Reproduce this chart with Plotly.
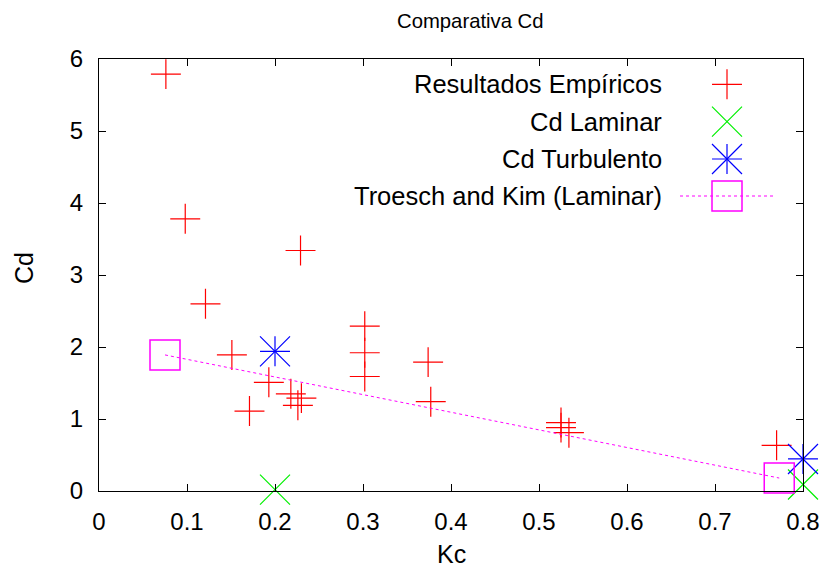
import plotly.graph_objects as go

# ---- data ----
emp_kc = [0.076, 0.098, 0.121, 0.229, 0.151, 0.193, 0.171, 0.218, 0.230, 0.226,
          0.302, 0.302, 0.302, 0.374, 0.377, 0.525, 0.525, 0.534, 0.770]
emp_cd = [5.79, 3.78, 2.60, 3.34, 1.89, 1.51, 1.11, 1.35, 1.29, 1.19,
          2.29, 1.92, 1.59, 1.79, 1.24, 0.95, 0.88, 0.81, 0.635]
lam_kc = [0.2, 0.8]
lam_cd = [0.02, 0.09]
turb_kc = [0.2, 0.8]
turb_cd = [1.94, 0.445]
tk_kc = [0.075, 0.773]
tk_cd = [1.89, 0.18]
x_ticks = [0, 0.1, 0.2, 0.3, 0.4, 0.5, 0.6, 0.7, 0.8]
x_ticktext = ["0", "0.1", "0.2", "0.3", "0.4", "0.5", "0.6", "0.7", "0.8"]
y_ticks = [0, 1, 2, 3, 4, 5, 6]
legend_names = ["Resultados Empíricos", "Cd Laminar", "Cd Turbulento", "Troesch and Kim (Laminar)"]

RED, GREEN, BLUE, MAG = "#ff0000", "#00f000", "#0000ff", "#ff00ff"
FONT = "Liberation Sans, Arial, sans-serif"

# window geometry (page body has an 8px default margin)
OFF = 8
WIN_W, WIN_H = 829, 571
PL, PR, PT, PB = 99, 803, 59, 491   # plot area in window pixels
W, H = WIN_W - OFF, WIN_H - OFF
PW, PH = PR - PL, PB - PT

def px(xp):
    return (xp - PL) / PW

def py(yp):
    return (PB - yp) / PH

fig = go.Figure()

# data traces
fig.add_trace(go.Scatter(x=emp_kc, y=emp_cd, mode="markers", cliponaxis=False,
                         marker=dict(symbol="cross-thin", size=21.4, color=RED,
                                     line=dict(color=RED, width=1.2))))
fig.add_trace(go.Scatter(x=lam_kc, y=lam_cd, mode="markers", cliponaxis=False,
                         marker=dict(symbol="x-thin", size=30, color=GREEN,
                                     line=dict(color=GREEN, width=1.2))))
fig.add_trace(go.Scatter(x=turb_kc, y=turb_cd, mode="markers", cliponaxis=False,
                         marker=dict(symbol="cross-thin", size=21.4, color=BLUE,
                                     line=dict(color=BLUE, width=1.2))))
fig.add_trace(go.Scatter(x=turb_kc, y=turb_cd, mode="markers", cliponaxis=False,
                         marker=dict(symbol="x-thin", size=30, color=BLUE,
                                     line=dict(color=BLUE, width=1.2))))
fig.add_trace(go.Scatter(x=tk_kc, y=tk_cd, mode="lines+markers", cliponaxis=False,
                         line=dict(color=MAG, width=1, dash="dot"),
                         marker=dict(symbol="square-open", size=30, color=MAG,
                                     line=dict(color=MAG, width=1.5))))

# legend (gnuplot style: text right-aligned, sample on the right) in an overlay pixel axis
LX_TEXT, LX_SAMPLE = 664, 727
rows = [84.3, 121.7, 159, 196]
fig.add_trace(go.Scatter(x=[LX_SAMPLE], y=[rows[0]], xaxis="x2", yaxis="y2", mode="markers",
                         cliponaxis=False,
                         marker=dict(symbol="cross-thin", size=21.4, color=RED, line=dict(color=RED, width=1.2))))
fig.add_trace(go.Scatter(x=[LX_SAMPLE], y=[rows[1]], xaxis="x2", yaxis="y2", mode="markers",
                         cliponaxis=False,
                         marker=dict(symbol="x-thin", size=30, color=GREEN, line=dict(color=GREEN, width=1.2))))
fig.add_trace(go.Scatter(x=[LX_SAMPLE], y=[rows[2]], xaxis="x2", yaxis="y2", mode="markers",
                         cliponaxis=False,
                         marker=dict(symbol="cross-thin", size=21.4, color=BLUE, line=dict(color=BLUE, width=1.2))))
fig.add_trace(go.Scatter(x=[LX_SAMPLE], y=[rows[2]], xaxis="x2", yaxis="y2", mode="markers",
                         cliponaxis=False,
                         marker=dict(symbol="x-thin", size=30, color=BLUE, line=dict(color=BLUE, width=1.2))))
fig.add_trace(go.Scatter(x=[680, 773], y=[rows[3], rows[3]], xaxis="x2", yaxis="y2", mode="lines",
                         cliponaxis=False, line=dict(color=MAG, width=1, dash="dot")))
fig.add_trace(go.Scatter(x=[LX_SAMPLE], y=[rows[3]], xaxis="x2", yaxis="y2", mode="markers",
                         cliponaxis=False,
                         marker=dict(symbol="square-open", size=30, color=MAG, line=dict(color=MAG, width=1.5))))

annotations = []
for name, ry in zip(legend_names, rows):
    annotations.append(dict(text=name, x=px(LX_TEXT), y=py(ry), xref="paper", yref="paper",
                            xanchor="right", yanchor="middle", showarrow=False,
                            font=dict(family=FONT, size=25.5, color="black")))
annotations.append(dict(text="Comparativa Cd", x=px(470), y=py(21), xref="paper", yref="paper",
                        xanchor="center", yanchor="middle", showarrow=False,
                        font=dict(family=FONT, size=20.3, color="black")))
annotations.append(dict(text="Kc", x=px(451), y=py(554), xref="paper", yref="paper",
                        xanchor="center", yanchor="middle", showarrow=False,
                        font=dict(family=FONT, size=25, color="black")))
annotations.append(dict(text="Cd", x=px(24), y=py(268), xref="paper", yref="paper",
                        xanchor="center", yanchor="middle", showarrow=False, textangle=-90,
                        font=dict(family=FONT, size=25, color="black")))

axis_common = dict(showline=True, linecolor="black", linewidth=1, mirror="ticks",
                   ticks="inside", ticklen=7, tickwidth=1, tickcolor="black",
                   showgrid=False, zeroline=False, automargin=False,
                   tickfont=dict(family=FONT, size=24, color="black"))

fig.update_layout(
    width=W, height=H,
    margin=dict(l=PL - OFF, r=WIN_W - PR, t=PT - OFF, b=WIN_H - PB, autoexpand=False),
    paper_bgcolor="white", plot_bgcolor="white", showlegend=False,
    xaxis=dict(range=[0, 0.8], tickvals=x_ticks, ticktext=x_ticktext,
               ticklabelstandoff=9, **axis_common),
    yaxis=dict(range=[0, 6], tickvals=y_ticks, ticklabelstandoff=10, **axis_common),
    xaxis2=dict(range=[PL, PR], overlaying="x", anchor="y2", visible=False),
    yaxis2=dict(range=[PB, PT], overlaying="y", anchor="x2", visible=False),
    annotations=annotations,
)

fig.write_html("out.html")
